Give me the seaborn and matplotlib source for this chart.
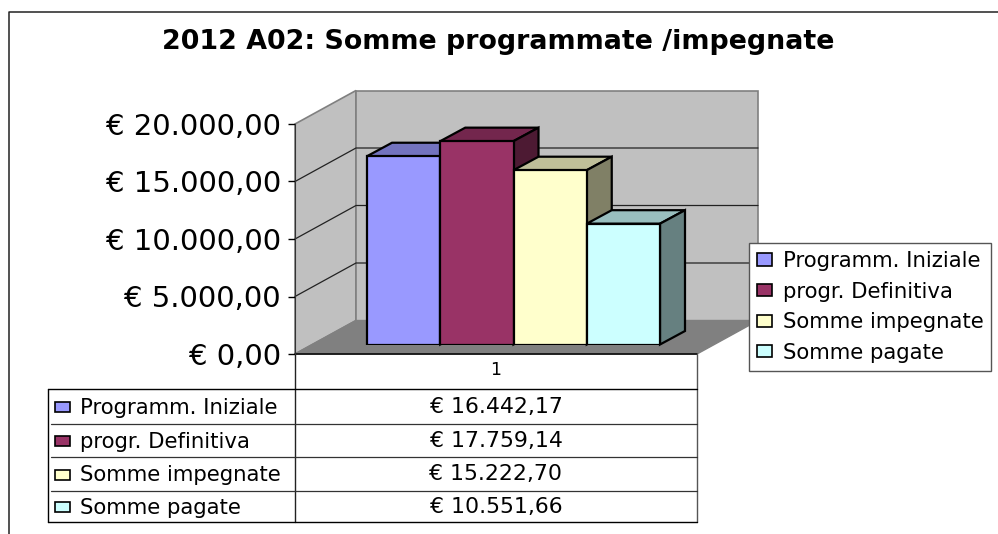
"""Excel-style 3D column chart: somme programmate / impegnate 2012 A02."""

import matplotlib

matplotlib.use("Agg")

import matplotlib.pyplot as plt
import pandas as pd
import seaborn as sns
from matplotlib.patches import Polygon

TITLE = "2012 A02: Somme programmate /impegnate"
CATEGORY = "1"
SERIES = ["Programm. Iniziale", "progr. Definitiva", "Somme impegnate", "Somme pagate"]
VALUES = [16442.17, 17759.14, 15222.70, 10551.66]
Y_TICKS = [0, 5000, 10000, 15000, 20000]

FRONT_COLORS = ["#9999FF", "#993366", "#FFFFCC", "#CCFFFF"]
TOP_COLORS = ["#7373BF", "#73264D", "#BFBF99", "#99BFBF"]
SIDE_COLORS = ["#4D4D80", "#4D1A33", "#808066", "#668080"]

W, H = 998, 534


def euro(value):
    text = f"{value:,.2f}".replace(",", "#").replace(".", ",").replace("#", ".")
    return f"€ {text}"


def px_axes(fig, left, top, right, bottom):
    """Axes placed with pixel coordinates measured from the top left."""
    return fig.add_axes([left / W, 1 - bottom / H, (right - left) / W, (bottom - top) / H])


sns.set_style("white")
plt.rcParams["font.family"] = ["DejaVu Sans"]

fig = plt.figure(figsize=(W / 100, H / 100), dpi=100, facecolor="white")

# background layer in pixels: frame, walls, floor, data table
bg = fig.add_axes([0, 0, 1, 1])
bg.set_xlim(0, W)
bg.set_ylim(H, 0)
bg.axis("off")

bg.plot([9, 9, W], [H, 12, 12], color="#222222", lw=1.1, clip_on=False)
bg.text(498, 42, TITLE, ha="center", va="center", fontsize=19.4, fontweight="bold", color="black")

X0, X1, Y0, Y1 = 295, 697, 354, 124
DX, DY = 61, -33.5
bg.add_patch(Polygon([(X0, Y1), (X0 + DX, Y1 + DY), (X0 + DX, Y0 + DY), (X0, Y0)],
                     facecolor="#C0C0C0", edgecolor="#808080", lw=1.2))
bg.add_patch(Polygon([(X0 + DX, Y1 + DY), (X1 + DX, Y1 + DY), (X1 + DX, Y0 + DY), (X0 + DX, Y0 + DY)],
                     facecolor="#C0C0C0", edgecolor="#808080", lw=1.2))
bg.add_patch(Polygon([(X0, Y0), (X0 + DX, Y0 + DY), (X1 + DX, Y0 + DY), (X1, Y0)],
                     facecolor="#808080", edgecolor="#808080", lw=1))
for tick in Y_TICKS[1:-1]:
    y = Y0 - tick / Y_TICKS[-1] * (Y0 - Y1)
    bg.plot([X0, X0 + DX, X1 + DX], [y, y + DY, y + DY], color="#222222", lw=0.9)

# data table under the plot
LEFT = 48
ROWS = [389, 424, 457, 491, 522]
bg.plot([X0, X1], [Y0, Y0], color="black", lw=1.1)
bg.plot([X0, X0], [Y0, ROWS[-1]], color="#222222", lw=1)
bg.plot([X1, X1], [Y0, ROWS[-1]], color="#555555", lw=1)
bg.plot([LEFT, LEFT], [ROWS[0], ROWS[-1]], color="black", lw=1)
bg.plot([LEFT, X1], [ROWS[0], ROWS[0]], color="black", lw=1)
bg.plot([LEFT, X1], [ROWS[-1], ROWS[-1]], color="black", lw=1)
for y in ROWS[1:-1]:
    bg.plot([51, X1], [y, y], color="#333333", lw=0.9)
bg.text((X0 + X1) / 2, 370, CATEGORY, ha="center", va="center", fontsize=12.5, color="black")
for i, name in enumerate(SERIES):
    mid = (ROWS[i] + ROWS[i + 1]) / 2 + 1
    bg.add_patch(plt.Rectangle((55, mid - 5.5), 15, 10, facecolor=FRONT_COLORS[i], edgecolor="black", lw=1.2))
    bg.text(80, mid, name, ha="left", va="center", fontsize=15.3, color="black")
    bg.text((X0 + X1) / 2, mid - 0.5, euro(VALUES[i]), ha="center", va="center", fontsize=15.8, color="black")

# value axis on the front plane
front = px_axes(fig, X0, Y1, X1, Y0)
front.patch.set_alpha(0)
front.set_ylim(Y_TICKS[0], Y_TICKS[-1])
front.set_xticks([])
front.set_yticks(Y_TICKS, [euro(v) for v in Y_TICKS])
front.tick_params(axis="y", left=True, length=5, width=1, color="black", labelcolor="black", labelsize=21, pad=5)
for side in ("top", "right", "bottom"):
    front.spines[side].set_visible(False)
front.spines["left"].set_color("#333333")

# columns, with a depth drawn from each bar's own rectangle
BAR_LEFT, BAR_RIGHT, BAR_BASE, BAR_SCALE = 367, 660, 344.5, 229
BAR_DX, BAR_DY = 25, 13.5
ax = px_axes(fig, X0, BAR_BASE - BAR_SCALE, X1, BAR_BASE)
ax.patch.set_alpha(0)

df = pd.DataFrame({"categoria": [CATEGORY] * len(SERIES), "serie": SERIES, "valore": VALUES})
sns.barplot(
    data=df,
    x="categoria",
    y="valore",
    hue="serie",
    hue_order=SERIES,
    palette=FRONT_COLORS,
    saturation=1,
    width=(BAR_RIGHT - BAR_LEFT) / (X1 - X0),
    gap=0,
    edgecolor="black",
    linewidth=1.6,
    legend=False,
    ax=ax,
)
center = ((BAR_LEFT + BAR_RIGHT) / 2 - X0) / (X1 - X0)
ax.set_xlim(-center, 1 - center)
ax.set_ylim(Y_TICKS[0], Y_TICKS[-1])
ax.axis("off")

depth_x = BAR_DX / (X1 - X0)
depth_y = BAR_DY / BAR_SCALE * Y_TICKS[-1]
for i, container in enumerate(ax.containers):
    bar = container[0]
    x_a, x_b = bar.get_x(), bar.get_x() + bar.get_width()
    top = bar.get_height()
    order = 3 + i
    bar.set_zorder(order + 0.5)
    ax.add_patch(Polygon([(x_a, top), (x_a + depth_x, top + depth_y), (x_b + depth_x, top + depth_y), (x_b, top)],
                         facecolor=TOP_COLORS[i], edgecolor="black", lw=1.6, zorder=order, clip_on=False))
    ax.add_patch(Polygon([(x_b, 0), (x_b + depth_x, depth_y), (x_b + depth_x, top + depth_y), (x_b, top)],
                         facecolor=SIDE_COLORS[i], edgecolor="black", lw=1.6, zorder=order, clip_on=False))

leg = ax.legend(
    ax.containers,
    SERIES,
    loc="upper left",
    bbox_to_anchor=(749 / W, 1 - 243 / H),
    bbox_transform=fig.transFigure,
    borderaxespad=0,
    frameon=True,
    framealpha=1,
    facecolor="white",
    edgecolor="#555555",
    fancybox=False,
    fontsize=15.3,
    labelcolor="black",
    handlelength=0.7,
    handleheight=0.5,
    handletextpad=0.5,
    labelspacing=0.5,
    borderpad=0.38,
)
leg.set_zorder(20)
leg.get_frame().set_linewidth(1.0)
for handle in leg.legend_handles:
    handle.set_edgecolor("black")
    handle.set_linewidth(1.2)

fig.savefig("out.png", dpi=100)
plt.close(fig)
